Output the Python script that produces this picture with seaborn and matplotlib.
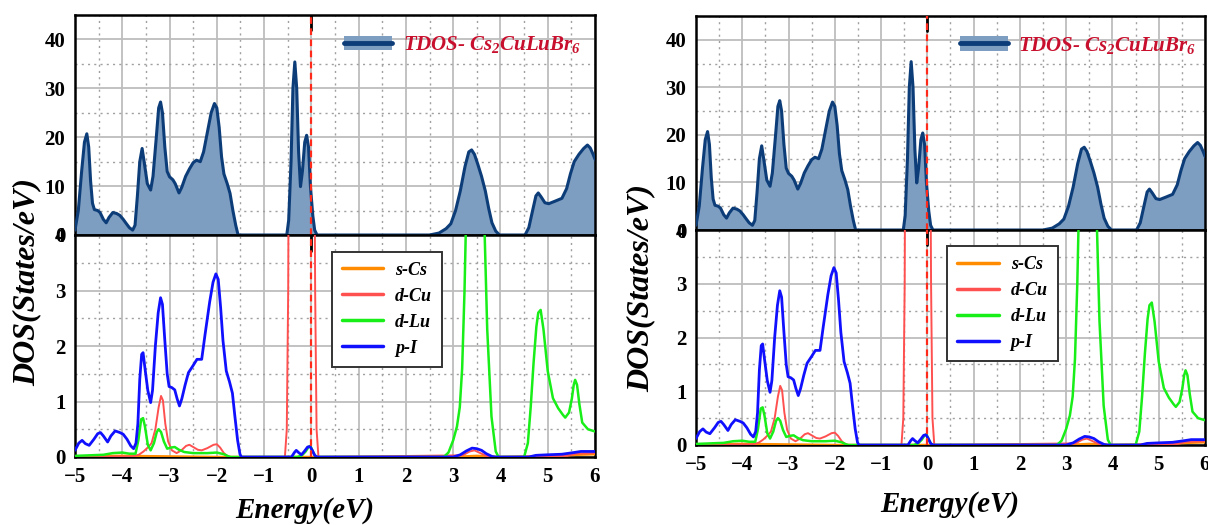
import numpy as np
import pandas as pd
import matplotlib
matplotlib.use("Agg")
import matplotlib.pyplot as plt
from matplotlib.patches import Patch
from matplotlib.lines import Line2D
from matplotlib.ticker import MultipleLocator
import seaborn as sns

# ---------------- data ----------------
tdos_E = [-5.00, -4.93, -4.86, -4.80, -4.75, -4.71, -4.67, -4.63, -4.59, -4.52, -4.47, -4.40,
          -4.34, -4.28, -4.20, -4.12, -4.05, -3.98, -3.92, -3.85, -3.78, -3.73, -3.68, -3.63,
          -3.58, -3.53, -3.47, -3.40, -3.35, -3.28, -3.23, -3.19, -3.15, -3.10, -3.05, -3.00,
          -2.93, -2.88, -2.80, -2.74, -2.66, -2.58, -2.50, -2.43, -2.35, -2.28, -2.20, -2.12,
          -2.05, -2.00, -1.95, -1.90, -1.85, -1.78, -1.72, -1.66, -1.60, -1.55,
          -0.52, -0.48, -0.43, -0.39, -0.35, -0.31, -0.27, -0.23, -0.19, -0.14, -0.10, -0.06,
          -0.02, 0.03, 0.07, 0.12,
          2.50, 2.70, 2.85, 2.95, 3.05, 3.15, 3.25, 3.33, 3.39, 3.45, 3.52, 3.60, 3.68, 3.75,
          3.82, 3.90, 3.98,
          4.52, 4.60, 4.68, 4.75, 4.80, 4.86, 4.94, 5.02, 5.15, 5.30, 5.40, 5.48, 5.56, 5.66,
          5.76, 5.84, 5.90, 5.96, 6.00]
tdos_V = [1.0, 5.0, 13.0, 19.0, 20.7, 18.0, 11.0, 6.5, 5.2, 5.0, 4.6, 3.2,
          2.5, 3.6, 4.6, 4.4, 4.0, 3.2, 2.4, 1.5, 1.0, 2.0, 8.0, 15.0,
          17.7, 14.5, 10.5, 9.2, 12.0, 20.0, 26.0, 27.2, 25.0, 18.0, 13.0, 11.9,
          11.3, 10.5, 8.6, 9.8, 12.0, 13.5, 14.8, 15.3, 15.0, 17.0, 21.0, 25.0,
          26.9, 26.0, 22.0, 16.0, 12.5, 10.5, 8.5, 5.0, 2.0, 0.0,
          0.0, 3.0, 15.0, 30.0, 35.4, 30.0, 17.0, 9.9, 13.0, 19.0, 20.4, 18.0,
          10.0, 4.0, 1.0, 0.0,
          0.0, 0.4, 1.3, 2.3, 5.0, 9.0, 14.0, 17.0, 17.4, 16.5, 14.5, 12.0, 9.0, 5.5,
          2.5, 0.8, 0.0,
          0.0, 1.5, 5.0, 8.0, 8.6, 7.8, 6.6, 6.4, 6.9, 7.5, 9.5, 12.5, 15.0, 16.5,
          17.7, 18.4, 17.8, 16.5, 15.5]

sCs_E = [-5.0, -4.0, -3.0, -2.0, -1.0, 3.0, 3.5, 4.0, 5.0, 5.6, 6.0]
sCs_V = [0.01, 0.02, 0.01, 0.0, 0.0, 0.0, 0.02, 0.0, 0.01, 0.04, 0.05]

dCu_E = [-5.00, -3.80, -3.65, -3.55, -3.45, -3.38, -3.30, -3.23, -3.18, -3.14, -3.09, -3.03,
         -2.95, -2.85, -2.75, -2.65, -2.58, -2.50, -2.40, -2.32, -2.20, -2.07, -2.00, -1.93,
         -1.85, -1.78, -1.72,
         -0.56, -0.52, -0.49, -0.46, -0.40, -0.35, -0.25, -0.15, -0.05, 0.04, 0.08, 0.11, 0.15,
         3.20, 3.35, 3.45, 3.55, 3.70, 3.80, 5.40, 5.60, 6.00]
dCu_V = [0.0, 0.01, 0.04, 0.10, 0.18, 0.25, 0.50, 0.90, 1.10, 1.02, 0.60, 0.28,
         0.12, 0.07, 0.12, 0.20, 0.22, 0.18, 0.13, 0.12, 0.16, 0.22, 0.23, 0.17,
         0.07, 0.02, 0.0,
         0.0, 0.5, 3.0, 10.0, 20.0, 30.0, 22.0, 18.0, 25.0, 10.0, 3.0, 0.5, 0.0,
         0.03, 0.10, 0.12, 0.08, 0.02, 0.0, 0.02, 0.06, 0.07]

dLu_E = [-5.00, -4.70, -4.40, -4.20, -4.00, -3.85, -3.72, -3.66, -3.60, -3.56, -3.52, -3.46,
         -3.40, -3.33, -3.27, -3.23, -3.18, -3.12, -3.05, -2.97, -2.89, -2.80, -2.69, -2.50,
         -2.20, -2.00, -1.85, -1.75, -1.70,
         -0.30, -0.20, -0.12, -0.06, -0.02, 0.03, 0.08, 0.12,
         2.80, 2.90, 3.00, 3.08, 3.14, 3.19, 3.24, 3.29, 3.35, 3.45, 3.60, 3.66, 3.72, 3.81,
         3.90, 3.96,
         4.50, 4.58, 4.64, 4.70, 4.76, 4.80, 4.85, 4.91, 5.00, 5.11, 5.22, 5.32, 5.37, 5.45,
         5.51, 5.55, 5.58, 5.62, 5.67, 5.73, 5.85, 6.00]
dLu_V = [0.02, 0.03, 0.04, 0.07, 0.08, 0.06, 0.06, 0.30, 0.68, 0.70, 0.55, 0.22,
         0.12, 0.25, 0.45, 0.50, 0.45, 0.28, 0.15, 0.17, 0.18, 0.13, 0.09, 0.07,
         0.07, 0.08, 0.05, 0.01, 0.0,
         0.0, 0.03, 0.10, 0.18, 0.20, 0.10, 0.02, 0.0,
         0.0, 0.08, 0.30, 0.55, 0.90, 1.60, 3.00, 5.0, 7.0, 8.0, 6.5, 4.2, 2.3, 0.73,
         0.10, 0.0,
         0.0, 0.25, 0.9, 1.69, 2.35, 2.60, 2.65, 2.30, 1.55, 1.06, 0.88, 0.76, 0.71, 0.80,
         1.05, 1.30, 1.39, 1.30, 0.95, 0.62, 0.50, 0.46]

pI_E = [-5.00, -4.92, -4.85, -4.78, -4.70, -4.60, -4.52, -4.46, -4.40, -4.31, -4.24, -4.15,
        -4.05, -3.98, -3.90, -3.82, -3.76, -3.71, -3.67, -3.63, -3.59, -3.56, -3.52, -3.46,
        -3.40, -3.36, -3.30, -3.24, -3.19, -3.15, -3.10, -3.05, -3.01, -2.95, -2.89, -2.84,
        -2.79, -2.74, -2.67, -2.60, -2.50, -2.42, -2.32, -2.25, -2.15, -2.08, -2.02, -1.97,
        -1.92, -1.87, -1.80, -1.73, -1.67, -1.62, -1.56, -1.51, -1.48,
        -0.42, -0.36, -0.32, -0.27, -0.21, -0.15, -0.08, -0.03, 0.02, 0.07, 0.12,
        3.00, 3.15, 3.28, 3.40, 3.50, 3.60, 3.70, 3.82, 3.90,
        4.60, 4.75, 5.00, 5.30, 5.55, 5.70, 6.00]
pI_V = [0.12, 0.25, 0.30, 0.24, 0.21, 0.32, 0.42, 0.44, 0.38, 0.27, 0.38, 0.47,
        0.44, 0.41, 0.32, 0.20, 0.15, 0.25, 0.60, 1.40, 1.85, 1.88, 1.60, 1.20,
        0.98, 1.20, 2.00, 2.60, 2.87, 2.75, 2.10, 1.50, 1.27, 1.25, 1.21, 1.05,
        0.92, 1.05, 1.30, 1.52, 1.65, 1.76, 1.76, 2.20, 2.80, 3.15, 3.30, 3.20,
        2.70, 2.10, 1.55, 1.35, 1.15, 0.75, 0.30, 0.05, 0.0,
        0.0, 0.08, 0.12, 0.08, 0.04, 0.10, 0.18, 0.19, 0.12, 0.03, 0.0,
        0.0, 0.04, 0.11, 0.16, 0.15, 0.12, 0.06, 0.01, 0.0,
        0.0, 0.03, 0.04, 0.05, 0.08, 0.10, 0.10]

pdos_series = ["s-Cs", "d-Cu", "d-Lu", "p-I"]
pdos_colors = ["#FF8C00", "#FF5050", "#18EE18", "#1010FF"]
tdos_label = "TDOS- Cs$_2$CuLuBr$_6$"
x_ticks = [-5, -4, -3, -2, -1, 0, 1, 2, 3, 4, 5, 6]
top_yticks = [0, 10, 20, 30, 40]
bot_yticks = [0, 1, 2, 3, 4]

# ---------------- style ----------------
sns.set_theme(style="white")
plt.rcParams["font.family"] = ["Liberation Serif", "DejaVu Serif"]
plt.rcParams["font.weight"] = "bold"
plt.rcParams["text.color"] = "black"
plt.rcParams["axes.labelcolor"] = "black"
plt.rcParams["xtick.color"] = "black"
plt.rcParams["ytick.color"] = "black"
plt.rcParams["axes.unicode_minus"] = True
plt.rcParams["mathtext.fontset"] = "custom"
plt.rcParams["mathtext.rm"] = "Liberation Serif:bold:italic"
plt.rcParams["mathtext.it"] = "Liberation Serif:bold:italic"
plt.rcParams["mathtext.bf"] = "Liberation Serif:bold:italic"

NAVY = "#0D3D78"
FILL = "#7D9DC1"

fig = plt.figure(figsize=(12.08, 5.25), dpi=100)

W, H = 1208.0, 525.0


def box(x0, x1, ytop, ybot):
    return [x0 / W, 1 - ybot / H, (x1 - x0) / W, (ybot - ytop) / H]


panels = [
    dict(top=box(75, 595, 15, 235), bot=box(75, 595, 235, 457),
         ylab=(27, 282), xlab=(305, 510)),
    dict(top=box(696, 1205, 16, 230), bot=box(696, 1205, 230, 445),
         ylab=(641, 288), xlab=(950, 505)),
]

series = [(sCs_E, sCs_V), (dCu_E, dCu_V), (dLu_E, dLu_V), (pI_E, pI_V)]
widths = [1.8, 1.4, 1.8, 2.0]


def style_axis(ax, minor_y, ylim, yticks):
    ax.set_xlim(-5, 6)
    ax.set_ylim(*ylim)
    ax.set_xticks(x_ticks)
    ax.xaxis.set_minor_locator(MultipleLocator(0.5))
    ax.set_yticks(yticks)
    ax.yaxis.set_minor_locator(MultipleLocator(minor_y))
    ax.grid(which="major", color="#BDBDBD", lw=1.3, ls="-")
    ax.grid(which="minor", color="#A0A0A0", lw=1.0, ls=(0, (1.5, 3)))
    ax.set_axisbelow(True)
    ax.tick_params(which="both", direction="in", top=False, right=False,
                   color="black", labelcolor="black", width=1.6, labelsize=15)
    ax.tick_params(which="major", length=8, pad=7)
    ax.tick_params(which="minor", length=5)
    for s in ax.spines.values():
        s.set_color("black")
        s.set_linewidth(1.8)
    ax.set_xlabel("")
    ax.set_ylabel("")
    for lab in ax.get_xticklabels() + ax.get_yticklabels():
        lab.set_fontweight("bold")


for p in panels:
    axt = fig.add_axes(p["top"])
    axb = fig.add_axes(p["bot"])

    # TDOS
    axt.fill_between(tdos_E, tdos_V, 0, color=FILL, lw=0, zorder=2)
    sns.lineplot(x=tdos_E, y=tdos_V, ax=axt, color=NAVY, lw=2.2, zorder=3, legend=False)
    style_axis(axt, 5, (0, 45), top_yticks)
    axt.tick_params(axis="x", labelbottom=False)

    # PDOS
    for (e, v), c, lw in zip(series, pdos_colors, widths):
        sns.lineplot(x=e, y=v, ax=axb, color=c, lw=lw, zorder=3, legend=False)
    style_axis(axb, 0.5, (0, 4), bot_yticks)

    # Fermi level
    for ax in (axt, axb):
        ax.axvline(0, ymin=0.93, ymax=1.0, color="black", lw=2.0, zorder=4)
        ax.axvline(0, color="#FF2A1A", ls=(0, (3, 2)), lw=1.6, zorder=5)

    # legends
    h_t = (Patch(facecolor=FILL, edgecolor="none"), Line2D([], [], color=NAVY, lw=3.5))
    lt = axt.legend([h_t], [tdos_label], loc="center left", bbox_to_anchor=(0.498, 0.864),
                    frameon=False, borderpad=0, handlelength=2.3, handletextpad=0.5,
                    prop=dict(family="Liberation Serif", weight="bold", style="italic", size=15))
    for t in lt.get_texts():
        t.set_color("#C8102E")

    hb = [Line2D([], [], color=c, lw=2.5) for c in pdos_colors]
    lb = axb.legend(hb, pdos_series, loc="upper left", bbox_to_anchor=(0.494, 0.925),
                    borderaxespad=0, fancybox=False, frameon=True, edgecolor="#333333",
                    framealpha=1, borderpad=0.55, labelspacing=0.5, handlelength=2.3,
                    handletextpad=0.65,
                    prop=dict(family="Liberation Serif", weight="bold", style="italic", size=13))
    lb.get_frame().set_linewidth(1.4)
    for t in lb.get_texts():
        t.set_color("black")

    fig.text(p["ylab"][0] / W, 1 - p["ylab"][1] / H, "DOS(States/eV)", rotation=90,
             ha="center", va="center", fontsize=23, fontweight="bold", fontstyle="italic",
             color="black")
    fig.text(p["xlab"][0] / W, 1 - p["xlab"][1] / H, "Energy(eV)",
             ha="center", va="center", fontsize=21, fontweight="bold", fontstyle="italic",
             color="black")

fig.savefig("out.png", dpi=100)
